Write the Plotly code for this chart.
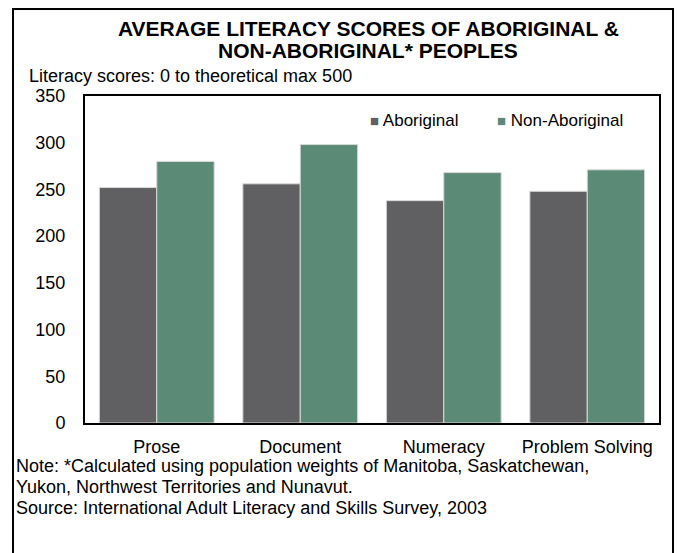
import plotly.graph_objects as go

categories = ["Prose", "Document", "Numeracy", "Problem Solving"]
aboriginal = [252, 256, 238, 248]
non_aboriginal = [280, 298, 268, 271]
series_names = ["Aboriginal", "Non-Aboriginal"]
series_colors = ["#606062", "#5b8a77"]
y_ticks = [0, 50, 100, 150, 200, 250, 300, 350]

W, H = 678, 553
L, R, T, B = 85, 19, 96, 130
FONT = "Liberation Sans, Arial, sans-serif"

def px(x):
    return (x - L) / (W - L - R)

def py(y):
    return (H - B - y) / (H - T - B)

fig = go.Figure()
for name, vals, col in zip(series_names, [aboriginal, non_aboriginal], series_colors):
    fig.add_trace(go.Bar(x=categories, y=vals, name=name, showlegend=False,
                         marker=dict(color=col, line=dict(color="#d9d9d9", width=1))))

fig.update_layout(
    width=W, height=H,
    margin=dict(l=L, r=R, t=T, b=B, pad=0),
    paper_bgcolor="white", plot_bgcolor="white",
    font=dict(family=FONT, size=18, color="black"),
    barmode="group", bargap=0.2, bargroupgap=0,
    xaxis=dict(showline=True, mirror=True, linecolor="black", linewidth=2,
               ticks="", showgrid=False, tickfont=dict(size=18), ticklabelstandoff=6),
    yaxis=dict(range=[0, 350], tickvals=y_ticks, showline=True, mirror=True,
               linecolor="black", linewidth=2, ticks="", showgrid=False, zeroline=False,
               tickfont=dict(size=18), ticklabelstandoff=14),
)

title_lines = ["AVERAGE LITERACY SCORES OF ABORIGINAL &amp;", "NON-ABORIGINAL* PEOPLES"]
note_lines = ["Note: *Calculated using population weights of Manitoba, Saskatchewan,",
              "Yukon, Northwest Territories and Nunavut.",
              "Source: International Adult Literacy and Skills Survey, 2003"]

annotations = []
for txt, yc in zip(title_lines, [28, 50]):
    annotations.append(dict(text="<b>" + txt + "</b>", x=px(368), y=py(yc),
                            xanchor="center", yanchor="middle",
                            font=dict(size=21, family=FONT)))
annotations.append(dict(text="Literacy scores: 0 to theoretical max 500",
                        x=px(27), y=py(76), xanchor="left", yanchor="middle",
                        font=dict(size=18, family=FONT)))
for txt, yc in zip(note_lines, [466, 487, 508]):
    annotations.append(dict(text=txt, x=px(14), y=py(yc), xanchor="left", yanchor="middle",
                            font=dict(size=18, family=FONT)))
# legend entries
for name, col, xs in zip(series_names, series_colors, [368, 495]):
    annotations.append(dict(text="<span style='color:%s;font-size:15px'>■</span> %s" % (col, name),
                            x=px(xs), y=py(120), xanchor="left", yanchor="middle",
                            font=dict(size=17, family=FONT)))
for a in annotations:
    a.update(xref="paper", yref="paper", showarrow=False, align="left")
fig.update_layout(annotations=annotations)

fig.add_shape(type="rect", xref="paper", yref="paper",
              x0=px(13), x1=px(673), y0=py(9), y1=py(560),
              line=dict(color="black", width=2), layer="above")

fig.write_html("out.html", config={"displayModeBar": False},
               post_script="document.body.style.margin='0';")
